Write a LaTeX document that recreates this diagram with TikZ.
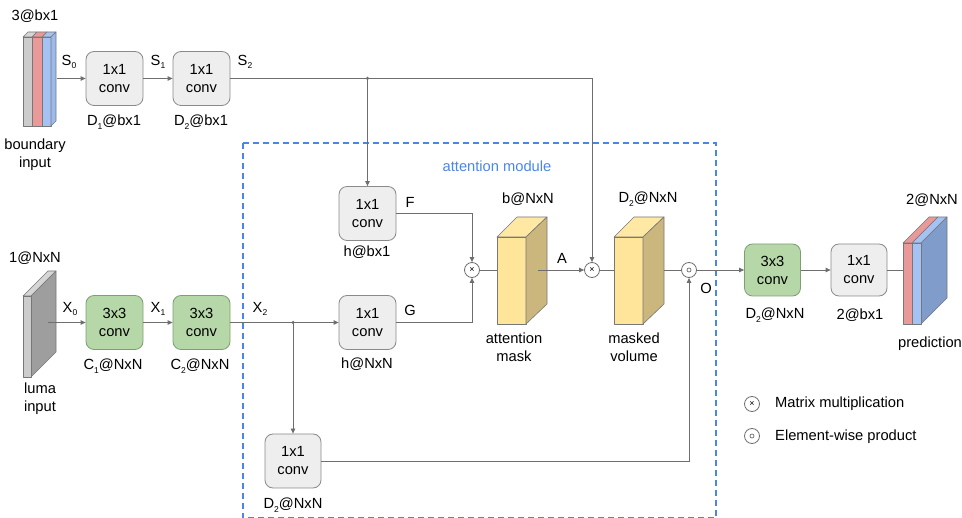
\documentclass[tikz,border=0pt]{standalone}
\usepackage{fontspec}
\setmainfont{Liberation Sans}
\usetikzlibrary{arrows.meta}
\definecolor{lineg}{HTML}{6E6E6E}
\definecolor{boxline}{HTML}{8A8A8A}
\definecolor{convgray}{HTML}{EEEEEE}
\definecolor{convgreen}{HTML}{B6D7A8}
\definecolor{greenline}{HTML}{7F9F73}
\definecolor{yfront}{HTML}{FFE599}
\definecolor{ytop}{HTML}{FFE8A3}
\definecolor{yside}{HTML}{CBB77E}
\definecolor{gfront}{HTML}{CCCCCC}
\definecolor{gtop}{HTML}{D6D6D6}
\definecolor{gside}{HTML}{9E9E9E}
\definecolor{rface}{HTML}{EA9999}
\definecolor{bface}{HTML}{A4C2F4}
\definecolor{bside}{HTML}{7F9CCB}
\definecolor{faceline}{HTML}{777777}
\definecolor{modblue}{HTML}{4A86E8}
\newcommand{\sbs}[1]{\raisebox{-0.45ex}{\fontsize{8.5}{8.5}\selectfont #1}}
\begin{document}
\begin{tikzpicture}[x=1pt,y=-1pt,font=\fontsize{14.7}{18}\selectfont,
  convbox/.style={draw=boxline, line width=0.8pt, rounded corners=8pt, minimum width=57pt, minimum height=54pt, inner sep=0pt, align=center, fill=convgray},
  greenbox/.style={convbox, fill=convgreen, draw=greenline},
  txt/.style={inner sep=0pt, align=center},
  con/.style={draw=lineg, line width=0.8pt},
  arr/.style={con, -{Triangle[length=5pt,width=4.5pt]}},
  opnode/.style={circle, draw=lineg, line width=0.8pt, fill=white, minimum size=15pt, inner sep=0pt, font=\fontsize{9}{9}\selectfont},
  dotop/.style={opnode, path picture={\draw[lineg, line width=0.7pt] (path picture bounding box.center) circle (2pt);}},
  dotj/.style={circle, fill=lineg, inner sep=0pt, minimum size=3.5pt},
  face/.style={draw=faceline, line width=0.6pt, line join=round},
  dashbox/.style={draw=modblue, line width=1.3pt, dash pattern=on 6pt off 4pt}]
\path[use as bounding box] (0,0) rectangle (962,518);

% attention module frame
\draw[dashbox] (243,143) rectangle (716,518);
\node[txt, text=modblue] (attn) at (497,166) {attention module};

% boundary input slabs
\node[txt] (lb3) at (35,16) {3@bx1};
\filldraw[face, fill=gfront] (23,37) rectangle (32,126);
\filldraw[face, fill=gtop] (23,37) -- (28,32) -- (37,32) -- (32,37) -- cycle;
\filldraw[face, fill=rface] (32,37) rectangle (42,126);
\filldraw[face, fill=rface] (32,37) -- (37,32) -- (47,32) -- (42,37) -- cycle;
\filldraw[face, fill=bface] (42,37) rectangle (51,126);
\filldraw[face, fill=bface] (42,37) -- (47,32) -- (56,32) -- (51,37) -- cycle;
\filldraw[face, fill=bface!80!bside] (51,37) -- (56,32) -- (56,121) -- (51,126) -- cycle;
\coordinate (bsrc) at (57,78.5);
\node[txt] (lbnd) at (35,155) {boundary\\input};

% luma input slab
\node[txt] (lluma1) at (35,258) {1@NxN};
\filldraw[face, fill=gtop] (23,296) -- (48,271) -- (56,271) -- (31,296) -- cycle;
\filldraw[face, fill=gside] (31,296) -- (56,271) -- (56,352) -- (31,377) -- cycle;
\filldraw[face, fill=gfront] (23,296) rectangle (31,377);
\coordinate (lsrc) at (48,322.5);
\node[txt] (lluma) at (40,399) {luma\\input};

% top branch
\node[convbox] (c1) at (114.5,78.5) {1x1\\conv};
\node[convbox] (c2) at (201.5,78.5) {1x1\\conv};
\node[txt] (d1) at (114,122) {D\sbs{1}@bx1};
\node[txt] (d2) at (201,122) {D\sbs{2}@bx1};
\node[txt] (s0) at (69,62) {S\sbs{0}};
\node[txt] (s1) at (158,62) {S\sbs{1}};
\node[txt] (s2) at (245,62) {S\sbs{2}};
\draw[arr] (bsrc) -- (c1.west);
\draw[arr] (c1.east) -- (c2.west);

% luma branch
\node[greenbox] (g1) at (114.5,322.5) {3x3\\conv};
\node[greenbox] (g2) at (201.5,322.5) {3x3\\conv};
\node[txt] (cc1) at (113,366) {C\sbs{1}@NxN};
\node[txt] (cc2) at (200,366) {C\sbs{2}@NxN};
\node[txt] (x0) at (70,309) {X\sbs{0}};
\node[txt] (x1) at (158,309) {X\sbs{1}};
\node[txt] (x2) at (260,309) {X\sbs{2}};
\draw[arr] (lsrc) -- (g1.west);
\draw[arr] (g1.east) -- (g2.west);

% attention convs
\node[convbox] (cf) at (367.5,213.5) {1x1\\conv};
\node[convbox] (cg) at (367.5,322.5) {1x1\\conv};
\node[convbox, minimum width=56pt] (cd) at (293,461) {1x1\\conv};
\node[txt] (lf) at (367,252) {h@bx1};
\node[txt] (lg) at (367,364) {h@NxN};
\node[txt] (ld) at (293,505) {D\sbs{2}@NxN};
\node[txt] (ff) at (410,202) {F};
\node[txt] (gg) at (410,310) {G};

% operators
\node[opnode] (m1) at (472,270) {×};
\node[opnode] (m2) at (592,270) {×};
\node[dotop] (m3) at (689,270) {};
\node[txt] (oo) at (706,288) {O};

% attention mask volume
\node[face, fill=yfront, minimum width=29pt, minimum height=87pt, inner sep=0pt] (amf) at (511.5,280.5) {};
\filldraw[face, fill=ytop] (497,237) -- (517,217) -- (547,217) -- (526,237) -- cycle;
\filldraw[face, fill=yside] (526,237) -- (547,217) -- (547,304) -- (526,324) -- cycle;
\coordinate (asrc) at (538,270);
\node[txt] (lam1) at (528,199) {b@NxN};
\node[txt] (lam2) at (514,347) {attention\\mask};
\node[txt] (la) at (562,258) {A};

% masked volume
\node[face, fill=yfront, minimum width=29pt, minimum height=87pt, inner sep=0pt] (mvf) at (628.5,280.5) {};
\filldraw[face, fill=ytop] (614,237) -- (634,217) -- (664,217) -- (643,237) -- cycle;
\filldraw[face, fill=yside] (643,237) -- (664,217) -- (664,304) -- (643,324) -- cycle;
\coordinate (msrc) at (664,270);
\node[txt] (lmv1) at (648,199) {D\sbs{2}@NxN};
\node[txt] (lmv2) at (634,347) {masked\\volume};

% output branch
\node[greenbox, minimum width=56pt, minimum height=52pt] (g3) at (772.5,270) {3x3\\conv};
\node[convbox, minimum width=56pt, minimum height=52pt] (c4) at (859,270) {1x1\\conv};
\node[txt] (lg3) at (775,315) {D\sbs{2}@NxN};
\node[txt] (lc4) at (860,315) {2@bx1};

% prediction slabs
\node[txt] (lp1) at (932,200) {2@NxN};
\filldraw[face, fill=rface] (903,243) -- (929,217) -- (938,217) -- (912,243) -- cycle;
\filldraw[face, fill=bface] (912,243) -- (938,217) -- (947,217) -- (921,243) -- cycle;
\filldraw[face, fill=bside] (921,243) -- (947,217) -- (947,298) -- (921,324) -- cycle;
\node[face, fill=rface, minimum width=9pt, minimum height=81pt, inner sep=0pt] (pr) at (907.5,283.5) {};
\filldraw[face, fill=bface] (912,243) rectangle (921,324);
\node[txt] (lp2) at (930,344) {prediction};

% connectors
\coordinate (js) at (cf.north |- c2.east);
\draw[con] (c2.east) -- (js);
\draw[arr] (js) -- (m2.north |- c2.east) -- (m2.north);
\draw[arr] (js) -- (cf.north);
\node[dotj] (jsd) at (js) {};
\coordinate (jx) at (cd.north |- g2.east);
\draw[arr] (g2.east) -- (cg.west);
\draw[arr] (jx) -- (cd.north);
\node[dotj] (jxd) at (jx) {};
\draw[arr] (cf.east) -- (m1.north |- cf.east) -- (m1.north);
\draw[arr] (cg.east) -- (m1.south |- cg.east) -- (m1.south);
\draw[con] (m1.east) -- (amf.west |- m1.east);
\draw[arr] (asrc) -- (m2.west);
\draw[con] (m2.east) -- (mvf.west |- m2.east);
\draw[con] (msrc) -- (m3.west);
\draw[arr] (cd.east) -- (m3.south |- cd.east) -- (m3.south);
\draw[arr] (m3.east) -- (g3.west);
\draw[arr] (g3.east) -- (c4.west);
\draw[con] (c4.east) -- (pr.west |- c4.east);

% legend
\node[opnode] (lgm) at (752,404) {×};
\node[txt, anchor=west] (lgmt) at (775,404) {Matrix multiplication};
\node[dotop] (lge) at (752,436) {};
\node[txt, anchor=west] (lget) at (775,437) {Element-wise product};
\end{tikzpicture}
\end{document}
